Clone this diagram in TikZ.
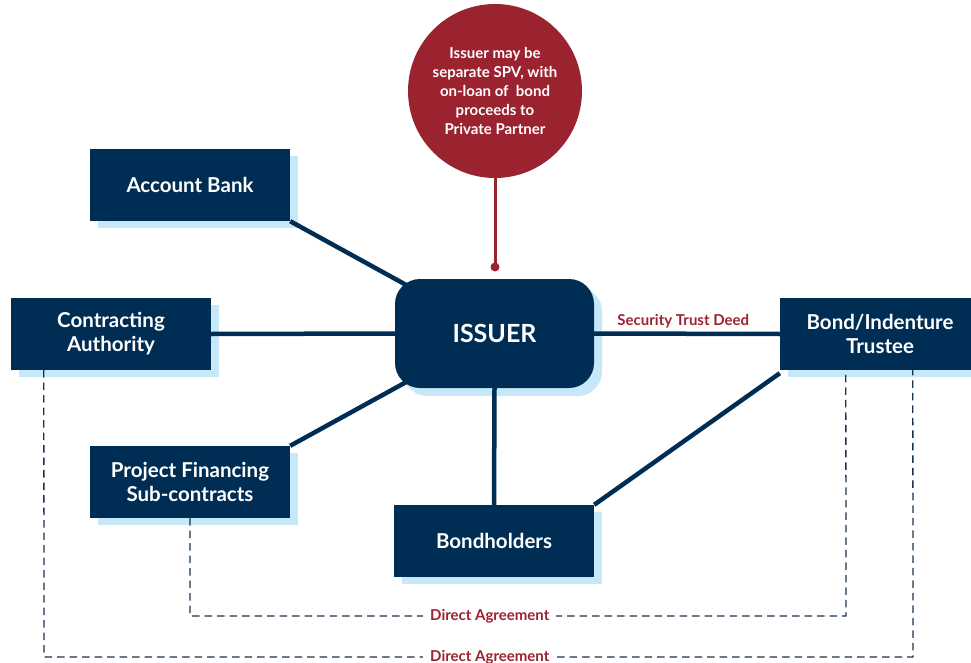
\documentclass[tikz,border=0pt]{standalone}
\usepackage{fontspec}
\setmainfont{Lato}
\definecolor{navy}{RGB}{0,45,84}
\definecolor{shade}{RGB}{198,232,248}
\definecolor{wine}{RGB}{155,35,48}
\definecolor{dashcol}{RGB}{25,50,80}
\pgfdeclarelayer{shadowlayer}
\pgfdeclarelayer{behind}
\pgfsetlayers{shadowlayer,behind,main}
\begin{document}
\begin{tikzpicture}[x=1pt,y=-1pt,
  box/.style={fill=navy, text=white, font=\bfseries\fontsize{20.5}{24}\selectfont, minimum width=200pt, minimum height=72pt, inner sep=0pt, align=center},
  conn/.style={draw=navy, line width=4.5pt},
  dline/.style={draw=dashcol, line width=1.3pt, dash pattern=on 7.5pt off 5pt},
  lab/.style={text=wine, font=\bfseries\fontsize{15}{17}\selectfont, inner xsep=7pt, inner ysep=1pt},
  shadowbox/.style={fill=shade}
]
\useasboundingbox (0,0) rectangle (971,663);
\clip (0,0) rectangle (971,663);

% nodes
\node[box] (ab) at (190,185) {Account Bank};
\node[box] (ca) at (111,334) {Contracting\\Authority};
\node[box] (pf) at (190,482) {Project Financing\\Sub-contracts};
\node[box] (bh) at (494,541) {Bondholders};
\node[box] (tr) at (880,334) {Bond/Indenture\\Trustee};
\node[fill=navy, text=white, font=\bfseries\fontsize{25}{30}\selectfont, minimum width=199pt, minimum height=109pt, rounded corners=25pt, inner sep=0pt] (is) at (494.5,333.5) {ISSUER};
\node[circle, fill=wine, minimum size=174pt, inner sep=0pt, text=white, font=\bfseries\fontsize{15}{19}\selectfont, align=center] (circ) at (495,91) {Issuer may be\\separate SPV, with\\on-loan of\ \ bond\\proceeds to\\Private Partner};
\coordinate (dot) at (495,267);

% shadows
\begin{pgfonlayer}{shadowlayer}
\foreach \n in {ab,ca,pf,bh,tr}{
  \fill[shadowbox] ([shift={(8,7)}]\n.north west) rectangle ([shift={(8,7)}]\n.south east);
}
\fill[shadowbox, rounded corners=25pt] ([shift={(8,8)}]is.north west) rectangle ([shift={(8,8)}]is.south east);
\end{pgfonlayer}

% connectors
\begin{pgfonlayer}{behind}
\draw[conn] (ab.south east) -- (is.center);
\draw[conn] (pf.north east) -- (is.center);
\draw[conn] (ca.east) -- (is.west);
\draw[conn] (is.south) -- (bh.north);
\draw[conn] (is.east) -- node[lab, above=2pt, pos=0.48]{Security Trust Deed} (tr.west);
\draw[conn] ([yshift=-3pt]tr.south west) -- (bh.north east);

\coordinate (d1) at (44,657);
\coordinate (d2) at (913,657);
\coordinate (e1) at (190,616);
\coordinate (e2) at (846,616);
\draw[dline] ([xshift=33pt]ca.south west) -- (d1) -- node[lab, fill=white, pos=0.513]{Direct Agreement} (d2) -- ([xshift=133pt]tr.south west);
\draw[dline] (pf.south) -- (e1) -- node[lab, fill=white, pos=0.457]{Direct Agreement} (e2) -- ([xshift=66pt]tr.south west);
\end{pgfonlayer}

\draw[wine, line width=3pt] (circ.south) -- (dot);
\fill[wine] (dot) circle (4.5pt);
\end{tikzpicture}
\end{document}
